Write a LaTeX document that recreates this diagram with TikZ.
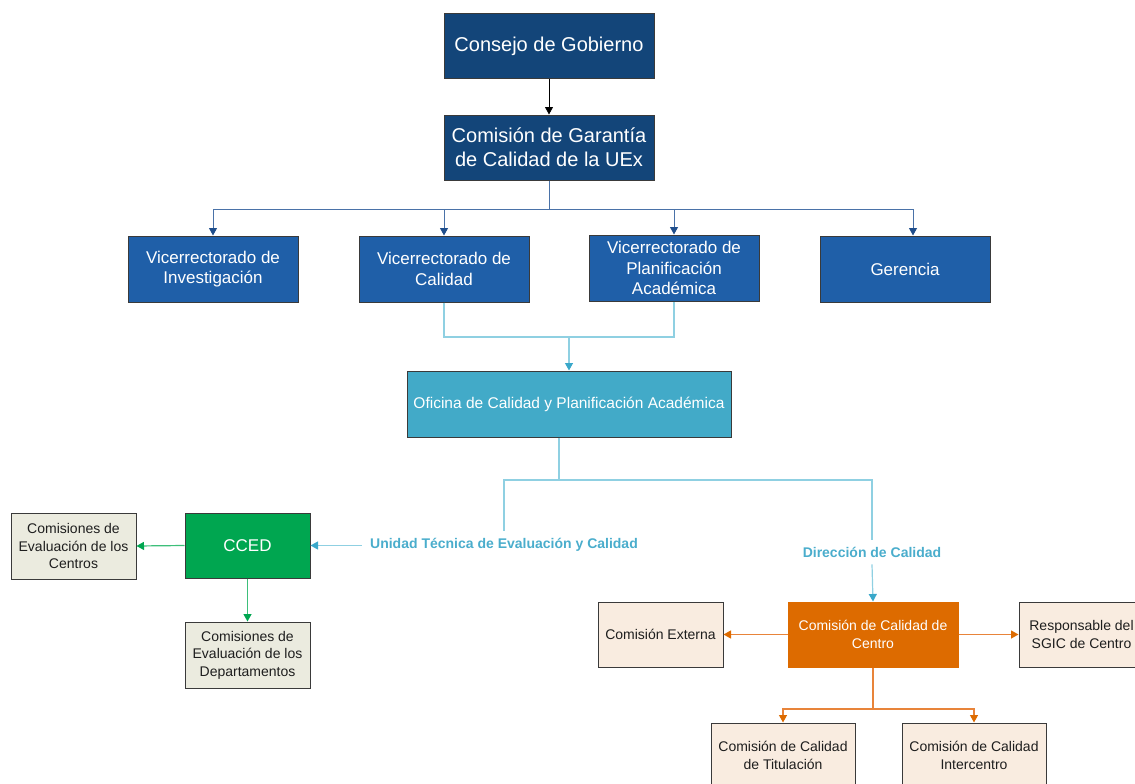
\documentclass[tikz,border=0pt]{standalone}
\usepackage{fontspec}
\setmainfont{Liberation Sans}
\usetikzlibrary{arrows.meta}

\definecolor{navy}{HTML}{134579}
\definecolor{vicblue}{HTML}{1F5FA8}
\definecolor{busblue}{HTML}{4A72A8}
\definecolor{tipblue}{HTML}{1F4E8C}
\definecolor{oficina}{HTML}{42AAC8}
\definecolor{cyanline}{HTML}{8FD0E2}
\definecolor{cyantip}{HTML}{3AA8CA}
\definecolor{labelblue}{HTML}{4AADCC}
\definecolor{ccedgreen}{HTML}{00A650}
\definecolor{greenline}{HTML}{3DBF7A}
\definecolor{greybox}{HTML}{EBEBDF}
\definecolor{orangebox}{HTML}{DD6B00}
\definecolor{orangeline}{HTML}{E8843A}
\definecolor{peach}{HTML}{F9ECE0}
\definecolor{boxline}{HTML}{3A3A3A}
\definecolor{darktext}{HTML}{1E1E1E}

\begin{document}
\begin{tikzpicture}[x=1pt, y=-1pt,
    box/.style={draw=boxline, line width=1pt, align=center, inner sep=0pt},
    topbox/.style={box, fill=navy, text=white, minimum width=210, minimum height=65,
        font=\fontsize{20}{24}\selectfont},
    vicbox/.style={box, fill=vicblue, text=white, minimum width=170, minimum height=66,
        font=\fontsize{17}{20.5}\selectfont},
    ofibox/.style={box, fill=oficina, text=white, minimum width=324, minimum height=66,
        font=\fontsize{15.5}{19}\selectfont},
    ccedbox/.style={box, fill=ccedgreen, text=white, minimum width=125, minimum height=65,
        font=\fontsize{17}{20.5}\selectfont},
    greybx/.style={box, fill=greybox, text=darktext, minimum width=125, minimum height=66,
        font=\fontsize{14}{17.5}\selectfont},
    orangebx/.style={box, fill=orangebox, draw=orangebox, text=white, minimum width=170,
        minimum height=65, font=\fontsize{14}{17.5}\selectfont},
    peachbx/.style={box, fill=peach, text=darktext, minimum height=65,
        font=\fontsize{14}{17.5}\selectfont},
    lbl/.style={text=labelblue, inner xsep=8, inner ysep=7,
        font=\bfseries\fontsize{14}{17}\selectfont},
    tip/.style={-{Triangle[length=7.5, width=8, color=#1]}},
    blk/.style={draw=black, line width=0.8pt, tip=black},
    blu/.style={draw=busblue, line width=1pt},
    cya/.style={draw=cyanline, line width=1.2pt},
    grn/.style={draw=greenline, line width=1.2pt, tip=ccedgreen},
    org/.style={draw=orangeline, line width=1.2pt, tip=orangebox}]
\path[use as bounding box, clip] (0,0) rectangle (1135,784);

% direccion
\node[topbox] (consejo) at (549,46.5) {Consejo de Gobierno};
\node[topbox] (garantia) at (549,147.5) {Comisión de Garantía\\de Calidad de la UEx};

% vicerrectorados
\node[vicbox] (inv) at (213,269) {Vicerrectorado de\\Investigación};
\node[vicbox] (cal) at (444,269) {Vicerrectorado de\\Calidad};
\node[vicbox] (pla) at (674,268) {Vicerrectorado de\\Planificación\\Académica};
\node[vicbox] (ger) at (905,269) {Gerencia};

\node[ofibox] (ofi) at (569,404) {Oficina de Calidad y Planificación Académica};

% unidades
\node[lbl] (uni) at (504,545) {Unidad Técnica de Evaluación y Calidad};
\node[lbl] (dir) at (872,552) {Dirección de Calidad};

% rama izquierda
\node[ccedbox] (cced) at (247.5,545.5) {CCED};
\node[greybx] (cent) at (73.5,546) {Comisiones de\\Evaluación de los\\Centros};
\node[greybx] (dep) at (247.5,655) {Comisiones de\\Evaluación de los\\Departamentos};

% rama derecha
\node[orangebx] (ccc) at (873,634.5) {Comisión de Calidad de\\Centro};
\node[peachbx, minimum width=125] (ext) at (660.5,634.5) {Comisión Externa};
\node[peachbx, minimum width=125] (resp) at (1081.5,634.5) {Responsable del\\SGIC de Centro};
\node[peachbx, minimum width=144] (tit) at (783,755.5) {Comisión de Calidad\\de Titulación};
\node[peachbx, minimum width=144] (inter) at (974,755.5) {Comisión de Calidad\\Intercentro};

% conectores
\draw[blk] (consejo) -- (garantia);
\draw[blu] (garantia.south) -- (garantia.south |- 0,209) coordinate (bus);
\foreach \n in {inv, cal, pla}
    \draw[blu, tip=tipblue] (bus) -| (\n.north);
\draw[blu, tip=tipblue] (bus) -| ([xshift=8]ger.north);

\coordinate (jn) at (ofi.north |- 0,337);
\draw[cya] (cal.south) |- (jn) -| (pla.south);
\draw[cya, tip=cyantip] (jn) -- (ofi.north);

\coordinate (split) at (559,480);
\draw[cya] ([xshift=-10]ofi.south) -- (split);
\draw[cya] (split) -| (uni.north);
\draw[cya] (split) -| (dir.north);
\draw[cya, tip=cyantip] (uni.west |- cced.east) -- (cced.east);
\draw[cya, tip=cyantip] (dir.south) -- (ccc.north);

\draw[grn] (cced.west) -- (cent.east);
\draw[grn] (cced.south) -- (dep.north);

\draw[org] (ccc.west) -- (ext.east);
\draw[org] (ccc.east) -- (resp.west);
\draw[draw=orangeline, line width=1.2pt] (ccc.south) -- (ccc.south |- 0,709) coordinate (obus);
\draw[org] (obus) -| (tit.north);
\draw[org] (obus) -| (inter.north);
\end{tikzpicture}
\end{document}
